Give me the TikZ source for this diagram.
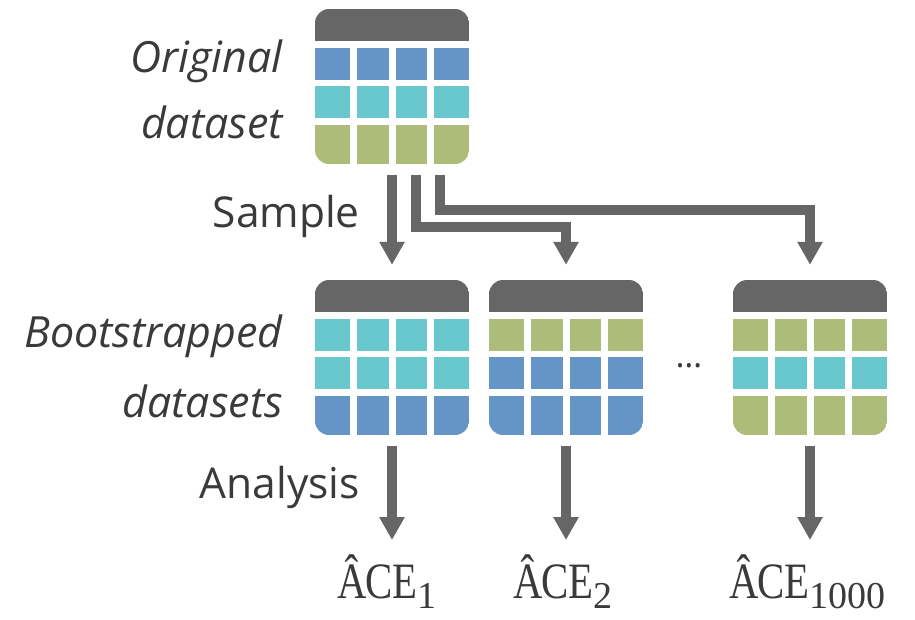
\documentclass[tikz,border=0pt]{standalone}
\usepackage{fontspec}
\setmainfont{Open Sans}
\newfontfamily\acefont{Liberation Serif}[FakeStretch=0.8]
\newfontfamily\subfont{Liberation Serif}
\usetikzlibrary{arrows.meta,positioning}

\definecolor{hdrgray}{HTML}{666666}
\definecolor{rowblue}{HTML}{6594C6}
\definecolor{rowcyan}{HTML}{68C8CE}
\definecolor{rowgreen}{HTML}{AEBC7A}
\definecolor{txtgray}{HTML}{3A3A3A}

\begin{document}
\begin{tikzpicture}[x=1pt,y=-1pt,
    flow/.style={draw=hdrgray,line width=9.5pt,-{Triangle[width=24pt,length=23pt]}},
    tablebox/.style={minimum width=154pt,minimum height=155pt,inner sep=0pt},
    steplabel/.style={text=txtgray,font=\fontsize{42.5}{48}\selectfont,anchor=base east,inner sep=0pt},
    setlabel/.style={text=txtgray,font=\fontsize{43}{68}\selectfont\itshape,align=right,anchor=east,inner sep=0pt},
    acelabel/.style={text=txtgray,font=\acefont\fontsize{51}{54}\selectfont,anchor=base west,inner sep=0pt}]

    \useasboundingbox (0,0) rectangle (915,619);

    % tables
    \foreach \nm/\tx/\ty/\ca/\cb/\cc in {orig/315/9/rowblue/rowcyan/rowgreen,
        bootA/315/280/rowcyan/rowcyan/rowblue,
        bootB/489/280/rowgreen/rowblue/rowblue,
        bootC/733/280/rowgreen/rowcyan/rowgreen}{
        \begin{scope}[shift={(\tx,\ty)}]
            \node[tablebox] (\nm) at (77,77.5) {};
            \clip[rounded corners=14pt] (0,0) rectangle (154,155);
            \fill[hdrgray] (0,0) rectangle (154,32);
            \foreach \xa/\xb in {0/35,42/74,81/112,119/154}{
                \fill[\ca] (\xa,39) rectangle (\xb,71);
                \fill[\cb] (\xa,77) rectangle (\xb,109);
                \fill[\cc] (\xa,116) rectangle (\xb,155);
            }
        \end{scope}
    }

    % labels
    \node[setlabel] (origlbl) at (283,89) {Original\\[-2pt]dataset};
    \node[setlabel] (bootlbl) at (283,366) {Bootstrapped\\[2pt]datasets};
    \node[steplabel] (sample) at (360,227) {Sample};
    \node[steplabel] (analysis) at (360,498) {Analysis};
    \node[text=txtgray,font=\fontsize{34}{34}\selectfont,anchor=base] (more) at (689,367) {\ldots};

    \node[acelabel] (aceA) at (337,598) {Â\kern-1pt CE\raisebox{-10pt}{\subfont\fontsize{38}{40}\selectfont 1}};
    \node[acelabel] (aceB) at (513,598) {Â\kern-1pt CE\raisebox{-10pt}{\subfont\fontsize{38}{40}\selectfont 2}};
    \node[acelabel] (aceC) at (729,598) {Â\kern-1pt CE\raisebox{-10pt}{\subfont\fontsize{38}{40}\selectfont 1000}};

    % sampling
    \draw[flow,shorten <=11pt,shorten >=15pt] (orig.south) -- (bootA.north);
    \draw[flow,shorten <=11pt,shorten >=15pt] ([xshift=24pt]orig.south) -- ++(0,63) -| (bootB.north);
    \draw[flow,shorten <=11pt,shorten >=15pt] ([xshift=48pt]orig.south) -- ++(0,46) -| (bootC.north);

    % analysis
    \draw[flow,shorten <=11pt,shorten >=14pt] (bootA.south) -- (bootA.south |- aceA.north);
    \draw[flow,shorten <=11pt,shorten >=14pt] (bootB.south) -- (bootB.south |- aceB.north);
    \draw[flow,shorten <=11pt,shorten >=14pt] (bootC.south) -- (bootC.south |- aceC.north);
\end{tikzpicture}
\end{document}
